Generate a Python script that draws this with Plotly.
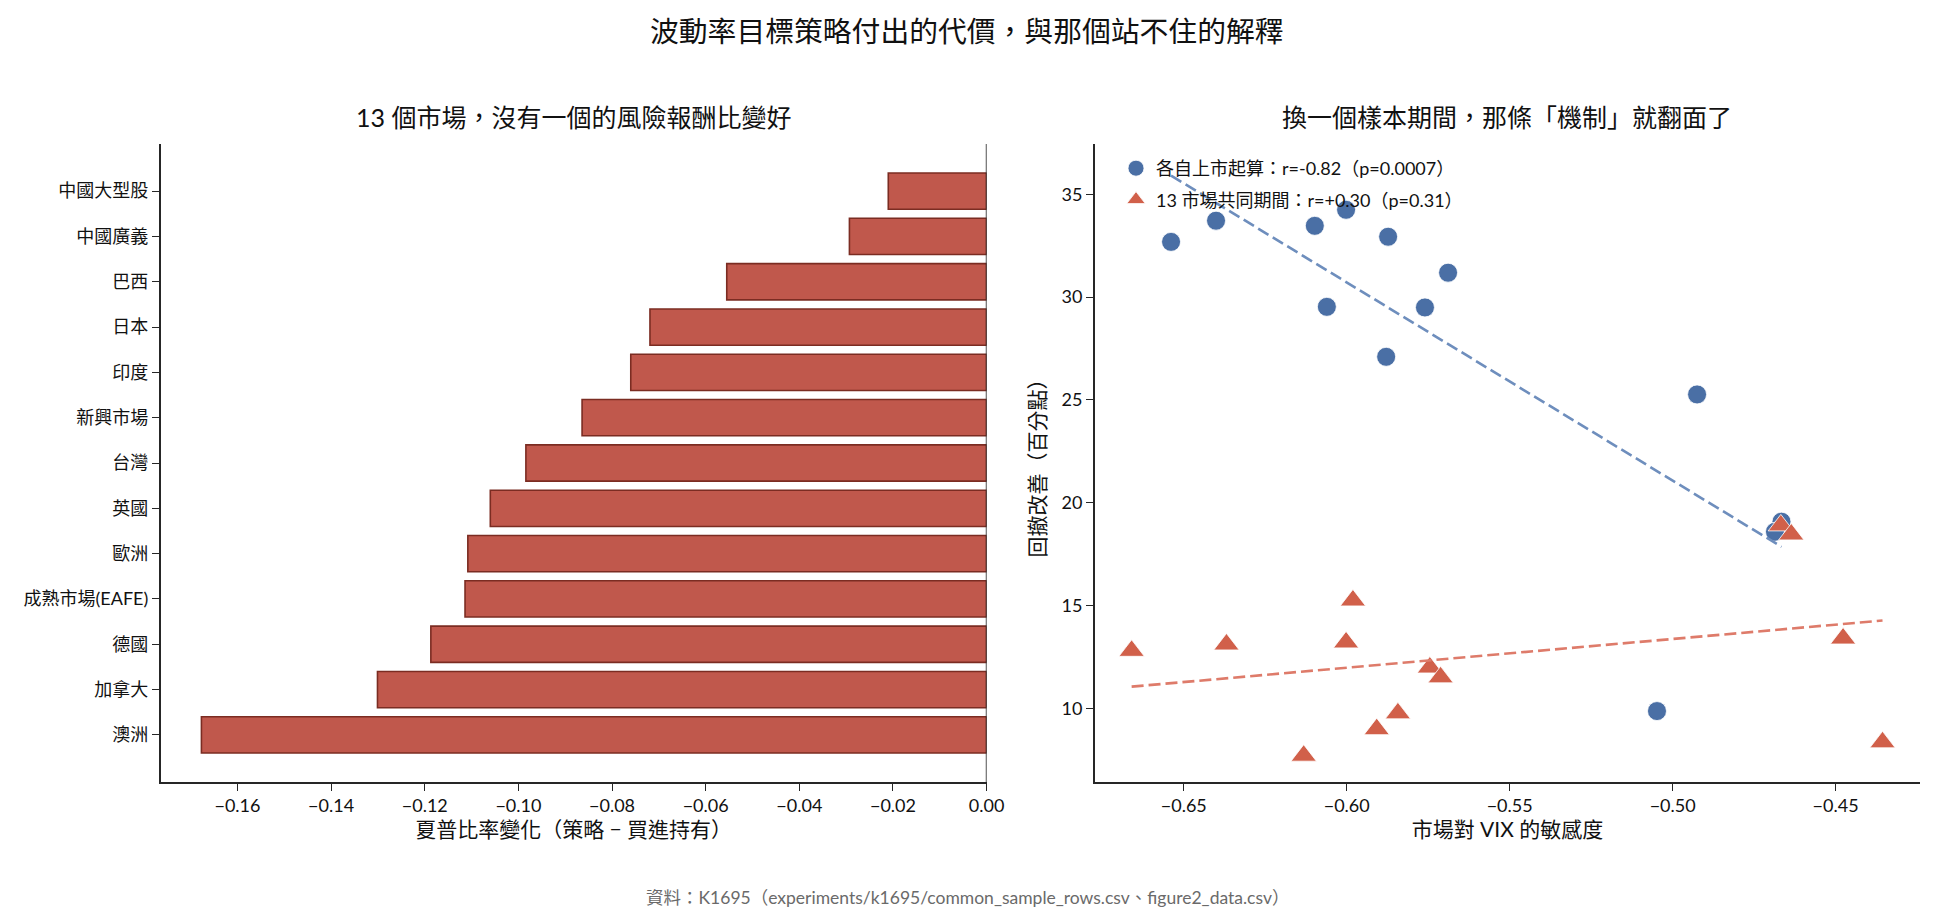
import numpy as np
import plotly.graph_objects as go

# ---------------- data ----------------
markets = ["中國大型股", "中國廣義", "巴西", "日本", "印度", "新興市場", "台灣",
           "英國", "歐洲", "成熟市場(EAFE)", "德國", "加拿大", "澳洲"]
sharpe_change = [-0.0210, -0.0293, -0.0555, -0.0719, -0.0760, -0.0864, -0.0984,
                 -0.1060, -0.1108, -0.1114, -0.1187, -0.1301, -0.1677]

own_vix = [-0.6539, -0.6401, -0.6098, -0.6002, -0.5873, -0.5689, -0.6061,
           -0.5760, -0.5879, -0.4925, -0.4666, -0.4686, -0.5048]
own_dd = [32.69, 33.72, 33.47, 34.25, 32.94, 31.19, 29.53,
          29.50, 27.10, 25.27, 19.08, 18.59, 9.87]

common_vix = [-0.6660, -0.6369, -0.5981, -0.6002, -0.5745, -0.5712, -0.5843,
              -0.5908, -0.6132, -0.4477, -0.4356, -0.4668, -0.4636]
common_dd = [12.80, 13.11, 15.25, 13.21, 11.99, 11.51, 9.76,
             8.99, 7.70, 13.40, 8.35, 18.90, 18.46]

left_ticks = [-0.16, -0.14, -0.12, -0.10, -0.08, -0.06, -0.04, -0.02, 0.00]
right_xticks = [-0.65, -0.60, -0.55, -0.50, -0.45]
right_yticks = [10, 15, 20, 25, 30, 35]

label_own = "各自上市起算：r=-0.82（p=0.0007）"
label_common = "13 市場共同期間：r=+0.30（p=0.31）"

# ---------------- styles ----------------
FONT = "Lato, 'Noto Sans CJK TC', sans-serif"
BAR = "#C0584C"
BAR_EDGE = "#7B2C22"
BLUE = "#4A6FA5"
RED = "#D1604A"
BLUE_LINE = "#6E8EBD"
RED_LINE = "#DE7B6A"
AX = "#262626"

W, H = 1935, 922
def px(x):
    return x / W
def py(y):
    return 1 - y / H

fig = go.Figure()

fig.add_trace(go.Bar(
    x=sharpe_change, y=markets, orientation="h",
    marker=dict(color=BAR, line=dict(color=BAR_EDGE, width=1.6)),
    width=0.8, showlegend=False, xaxis="x", yaxis="y",
))

fig.add_trace(go.Scatter(
    x=own_vix, y=own_dd, mode="markers", name=label_own, legendgroup="own",
    marker=dict(symbol="circle", size=19, color=BLUE, line=dict(color="white", width=0.8)),
    xaxis="x2", yaxis="y2",
))
fig.add_trace(go.Scatter(
    x=common_vix, y=common_dd, mode="markers", name=label_common, legendgroup="common",
    marker=dict(symbol="triangle-up", size=22, color=RED, line=dict(color="white", width=0.8)),
    xaxis="x2", yaxis="y2",
))

# regression lines from the data
for xs, ys, col in [(own_vix, own_dd, BLUE_LINE), (common_vix, common_dd, RED_LINE)]:
    xa = np.array(xs); ya = np.array(ys)
    b, a = np.polyfit(xa, ya, 1)
    xl = np.array([xa.min(), xa.max()])
    fig.add_trace(go.Scatter(
        x=xl, y=a + b * xl, mode="lines", showlegend=False,
        line=dict(color=col, width=2.6, dash="12px,5px"),
        xaxis="x2", yaxis="y2", hoverinfo="skip",
    ))

axis_common = dict(
    showgrid=False, zeroline=False, showline=True, linecolor=AX, linewidth=1.6,
    ticks="outside", ticklen=7, tickwidth=1.4, tickcolor=AX, automargin=False,
    tickfont=dict(family=FONT, size=18, color="#111"),
)

n = len(markets)
fig.update_layout(
    width=W, height=H,
    paper_bgcolor="white", plot_bgcolor="white",
    margin=dict(l=0, r=0, t=0, b=0),
    font=dict(family=FONT, color="#111"),
    bargap=0.2,
    xaxis=dict(
        domain=[px(160.7), px(986.6)], anchor="y",
        range=[-0.1764, 0], tickvals=left_ticks, tickformat=".2f",
        title=dict(text="夏普比率變化（策略 − 買進持有）", font=dict(family=FONT, size=21), standoff=6),
        **axis_common,
    ),
    yaxis=dict(
        domain=[py(782), py(144)], anchor="x",
        type="category", categoryorder="array", categoryarray=markets[::-1],
        range=[-1.04, n - 1 + 1.04],
        **axis_common,
    ),
    xaxis2=dict(
        domain=[px(1094.8), px(1920)], anchor="y2",
        range=[-0.6773, -0.4241], tickvals=right_xticks, tickformat=".2f",
        title=dict(text="市場對 VIX 的敏感度", font=dict(family=FONT, size=21), standoff=6),
        **axis_common,
    ),
    yaxis2=dict(
        domain=[py(782), py(144)], anchor="x2",
        range=[6.42, 37.45], tickvals=right_yticks,
        title=dict(text="回撤改善（百分點）", font=dict(family=FONT, size=21), standoff=10),
        **axis_common,
    ),
    legend=dict(
        x=px(1116), y=py(150), xanchor="left", yanchor="top",
        bgcolor="rgba(0,0,0,0)", borderwidth=0,
        font=dict(family=FONT, size=18, color="#111"),
        itemwidth=30, tracegroupgap=5,
    ),
    shapes=[dict(
        type="line", xref="x", yref="y domain", x0=0, x1=0, y0=0, y1=1,
        line=dict(color=AX, width=1.6), layer="above",
    )],
    annotations=[
        dict(text="波動率目標策略付出的代價，與那個站不住的解釋",
             x=px(967), y=py(31), xref="paper", yref="paper",
             xanchor="center", yanchor="middle", showarrow=False,
             font=dict(family=FONT, size=28.8, color="#111")),
        dict(text="13 個市場，沒有一個的風險報酬比變好",
             x=px((160.7 + 986.6) / 2), y=py(117), xref="paper", yref="paper",
             xanchor="center", yanchor="middle", showarrow=False,
             font=dict(family=FONT, size=25, color="#111")),
        dict(text="換一個樣本期間，那條「機制」就翻面了",
             x=px((1094.8 + 1920) / 2), y=py(117), xref="paper", yref="paper",
             xanchor="center", yanchor="middle", showarrow=False,
             font=dict(family=FONT, size=25, color="#111")),
        dict(text="資料：K1695（experiments/k1695/common_sample_rows.csv、figure2_data.csv）",
             x=px(967), y=py(897), xref="paper", yref="paper",
             xanchor="center", yanchor="middle", showarrow=False,
             font=dict(family=FONT, size=17.5, color="#6a6a6a")),
    ],
)

fig.write_html("out.html")
